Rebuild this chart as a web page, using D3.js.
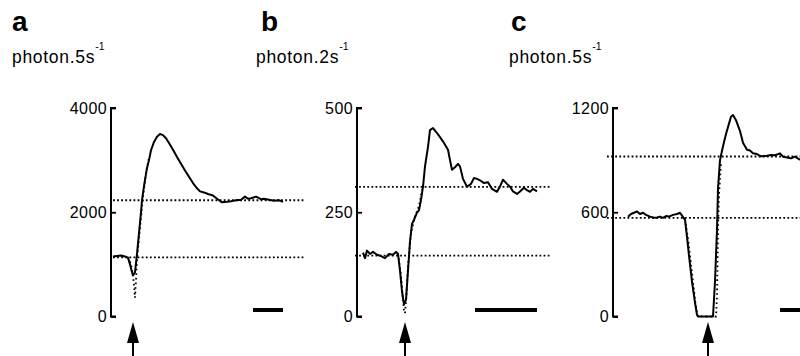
<!DOCTYPE html>
<html>
<head>
<meta charset="utf-8">
<script src="https://cdn.jsdelivr.net/npm/d3@7"></script>
<style>
  body { margin: 0; background: #fff; }
  svg { display: block; font-family: "Liberation Sans", Arial, sans-serif; }
</style>
</head>
<body>
<svg id="chart" width="800" height="356"></svg>
<script>
// panel a (time in s, photon counts)
const aTime = [2, 6, 10, 14, 17, 19, 21, 22, 24, 26, 28, 30, 31, 33, 36, 38, 40, 43, 46, 49, 52, 55, 58, 62, 66, 70, 74, 78, 82, 86, 89, 93, 97, 102, 106, 111, 116, 120, 125, 130, 134, 137, 140, 145, 150, 153, 158, 163, 168, 172];
const aValue = [1150, 1160, 1170, 1150, 1130, 1000, 850, 790, 850, 1200, 1600, 2000, 2230, 2500, 2850, 3000, 3190, 3350, 3450, 3500, 3480, 3420, 3330, 3200, 3060, 2930, 2800, 2680, 2560, 2460, 2400, 2380, 2350, 2320, 2260, 2190, 2200, 2210, 2230, 2240, 2300, 2260, 2270, 2300, 2250, 2260, 2240, 2220, 2230, 2200];
const aRawTime = [17, 20, 22, 23, 24, 25, 26, 28, 30, 32, 35, 38];
const aRawValue = [1140, 1000, 800, 600, 360, 700, 1100, 1500, 1900, 2300, 2750, 3050];
const aLevels = [1135, 2230];
const aTicks = [0, 2000, 4000];

// panel b
const bTime = [6, 8, 10, 13, 16, 20, 24, 28, 32, 36, 39, 41, 43, 45, 47, 49, 51, 53, 55, 57, 60, 62, 64, 66, 68, 71, 73, 76, 80, 83, 87, 91, 93, 95, 98, 101, 103, 106, 110, 114, 117, 120, 124, 127, 131, 135, 140, 143, 146, 150, 153, 156, 160, 163, 167, 170, 173, 176, 180];
const bValue = [153, 140, 158, 150, 155, 148, 145, 140, 150, 148, 155, 150, 110, 60, 29, 40, 110, 180, 222, 232, 249, 255, 280, 311, 360, 407, 447, 452, 440, 430, 416, 400, 375, 352, 358, 366, 360, 330, 311, 318, 332, 330, 325, 320, 322, 306, 299, 312, 328, 318, 311, 300, 294, 300, 309, 303, 299, 306, 300];
const bRawTime = [41, 44, 46, 47, 48, 49, 51, 54, 58, 62, 66];
const bRawValue = [150, 100, 40, 15, 8, 35, 120, 200, 240, 265, 315];
const bLevels = [146, 311];
const bTicks = [0, 250, 500];

// panel c
const cTime = [15, 18, 21, 24, 27, 30, 33, 37, 41, 44, 47, 50, 53, 56, 60, 64, 67, 72, 74, 76, 79, 82, 84, 85, 92, 100, 102, 104, 105, 107, 110, 113, 116, 118, 120, 123, 127, 130, 134, 137, 140, 144, 148, 154, 158, 162, 167, 170, 174, 178, 182, 186, 190];
const cValue = [574, 590, 597, 605, 590, 597, 585, 575, 568, 570, 575, 568, 578, 575, 585, 590, 597, 556, 458, 350, 200, 80, 10, 0, 0, 0, 200, 500, 736, 900, 980, 1050, 1110, 1150, 1160, 1130, 1067, 1000, 960, 955, 940, 935, 922, 925, 930, 928, 939, 920, 915, 910, 920, 905, 899];
const cRawTime = [72, 75, 78, 81, 83, 85, 103, 104, 104.5, 105, 106, 108];
const cRawValue = [560, 450, 300, 150, 50, 0, 0, 120, 300, 500, 700, 880];
const cLevels = [568, 921];
const cTicks = [0, 600, 1200];

const panels = [
  { letter: "a", unit: "photon.5s", axisX: 111, xMax: 194, yMax: 4000, time: aTime, value: aValue,
    rawTime: aRawTime, rawValue: aRawValue, levels: aLevels, ticks: aTicks, levelFrom: 2, levelTo: 194,
    bar: [142, 172], arrow: 22, labelX: 12, letterX: 12 },
  { letter: "b", unit: "photon.2s", axisX: 357, xMax: 194, yMax: 500, time: bTime, value: bValue,
    rawTime: bRawTime, rawValue: bRawValue, levels: bLevels, ticks: bTicks, levelFrom: -2, levelTo: 193,
    bar: [118, 180], arrow: 48, labelX: 256, letterX: 261 },
  { letter: "c", unit: "photon.5s", axisX: 613, xMax: 190, yMax: 1200, time: cTime, value: cValue,
    rawTime: cRawTime, rawValue: cRawValue, levels: cLevels, ticks: cTicks, levelFrom: -6, levelTo: 190,
    bar: [167, 200], arrow: 95, labelX: 509, letterX: 511 }
];

const svg = d3.select("#chart");
const yTop = 108, yBottom = 316.5;

panels.forEach(p => {
  const x = d3.scaleLinear().domain([0, p.xMax]).range([p.axisX, p.axisX + p.xMax]);
  const y = d3.scaleLinear().domain([0, p.yMax]).range([yBottom, yTop]);
  const g = svg.append("g");

  // panel letter + unit label
  g.append("text").attr("x", p.letterX).attr("y", 31)
    .attr("font-size", 28).attr("font-weight", "bold").text(p.letter);
  const unit = g.append("text").attr("x", p.labelX).attr("y", 63)
    .attr("font-size", 17.5).attr("letter-spacing", 0.7).text(p.unit);
  unit.append("tspan").attr("dy", -13).attr("font-size", 10.5).attr("letter-spacing", 0).text("-1");

  // y axis (ticks point inward)
  const axis = d3.axisRight(y).tickValues(p.ticks).tickSize(5).tickFormat(d3.format("d"));
  const ag = g.append("g").attr("transform", `translate(${p.axisX},0)`).call(axis);
  ag.select(".domain").attr("stroke", "#000").attr("stroke-width", 2)
    .attr("d", `M5,${yTop}H0V${yBottom}H5`);
  ag.selectAll(".tick line").attr("stroke", "#000").attr("stroke-width", 1.8);
  ag.selectAll(".tick text").attr("x", -4).attr("text-anchor", "end")
    .attr("font-size", 16).attr("letter-spacing", 0.4).attr("fill", "#000")
    .attr("font-family", "'Liberation Sans', Arial, sans-serif");

  // reference levels
  g.selectAll(".level").data(p.levels).join("line")
    .attr("x1", x(p.levelFrom)).attr("x2", x(p.levelTo))
    .attr("y1", d => y(d)).attr("y2", d => y(d))
    .attr("stroke", "#000").attr("stroke-width", 1.8).attr("stroke-dasharray", "1.8,2.3");

  const line = d3.line().x(d => x(d[0])).y(d => y(d[1]));

  // raw (dotted) trace
  g.append("path").datum(d3.zip(p.rawTime, p.rawValue)).attr("d", line)
    .attr("fill", "none").attr("stroke", "#000").attr("stroke-width", 1.8)
    .attr("stroke-dasharray", "1.6,3");

  // smoothed trace
  g.append("path").datum(d3.zip(p.time, p.value)).attr("d", line)
    .attr("fill", "none").attr("stroke", "#000").attr("stroke-width", 2)
    .attr("stroke-linejoin", "round");

  // time scale bar
  g.append("line").attr("x1", x(p.bar[0])).attr("x2", x(p.bar[1]))
    .attr("y1", yBottom - 6.5).attr("y2", yBottom - 6.5)
    .attr("stroke", "#000").attr("stroke-width", 4);

  // stimulus arrow
  const ax = x(p.arrow);
  g.append("line").attr("x1", ax).attr("x2", ax).attr("y1", 340).attr("y2", 356)
    .attr("stroke", "#000").attr("stroke-width", 2);
  g.append("path").attr("d", `M${ax},322L${ax + 6},343L${ax - 6},343Z`).attr("fill", "#000");
});
</script>
</body>
</html>
